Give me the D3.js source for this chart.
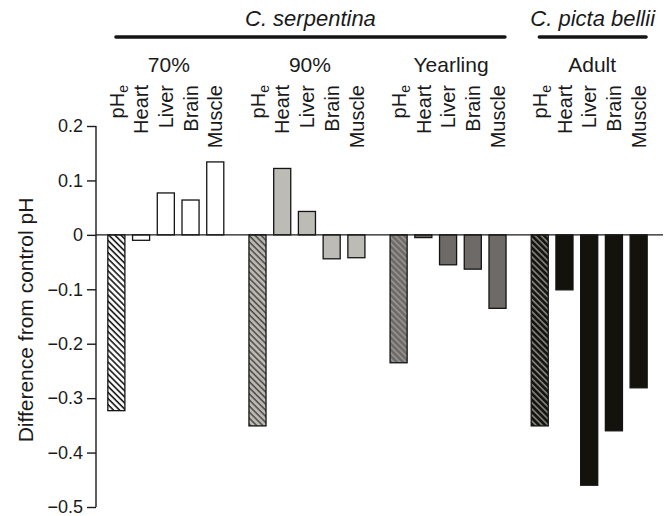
<!DOCTYPE html>
<html>
<head>
<meta charset="utf-8">
<script src="https://cdn.jsdelivr.net/npm/d3@7"></script>
<style>
    body{ margin:0; background:#fff; }
    svg text{ font-family:'Liberation Sans', Arial, sans-serif; fill:#1a1a1a; }
</style>
</head>
<body>
<svg id="chart" width="665" height="516"></svg>
<script>
'use strict';

// groups (developmental stage) and tissues
var groups = ['70%', '90%', 'Yearling', 'Adult'];
var tissues = ['pHe', 'Heart', 'Liver', 'Brain', 'Muscle'];

var values70 = [-0.323, -0.010, 0.077, 0.064, 0.134];
var values90 = [-0.351, 0.122, 0.043, -0.044, -0.042];
var valuesYearling = [-0.235, -0.005, -0.055, -0.063, -0.135];
var valuesAdult = [-0.351, -0.101, -0.460, -0.360, -0.281];

var speciesNames = ['C. serpentina', 'C. picta bellii'];
var speciesGroups = [['70%', '90%', 'Yearling'], ['Adult']];

var yTicks = [0.2, 0.1, 0, -0.1, -0.2, -0.3, -0.4, -0.5];
var yLabel = 'Difference from control pH';

var fills = { '70%': '#ffffff', '90%': '#bdbbb6', 'Yearling': '#6e6a67', 'Adult': '#13120d' },
    hatchLines = { '70%': '#141414', '90%': '#4d4a47', 'Yearling': '#9a9693', 'Adult': '#8a8883' };

var allValues = [values70, values90, valuesYearling, valuesAdult],
    rows = [];

groups.forEach(function( g, gi ){
    tissues.forEach(function( t, ti ){
        rows.push({ group: g, tissue: t, value: allValues[gi][ti], idx: gi });
    });
});

var svg = d3.select( '#chart' ),
    defs = svg.append( 'defs' );

var x0 = d3.scaleBand()
        .domain( groups )
        .range( [104, 651] )
        .paddingInner( 0.124 )
        .paddingOuter( 0 ),
    x1 = d3.scaleBand()
        .domain( tissues )
        .range( [0, x0.bandwidth()] )
        .paddingInner( 0.31 )
        .paddingOuter( 0.155 ),
    y = d3.scaleLinear()
        .domain( [-0.5, 0.2] )
        .range( [507, 126] );

// hatch patterns for the pHe bars
groups.forEach(function( g, gi ){
    var p = defs.append( 'pattern' )
        .attr( 'id', 'hatch' + gi )
        .attr( 'patternUnits', 'userSpaceOnUse' )
        .attr( 'width', 4.3 )
        .attr( 'height', 4.3 )
        .attr( 'patternTransform', 'rotate(-45)' );

    p.append( 'rect' )
        .attr( 'width', 4.3 )
        .attr( 'height', 4.3 )
        .attr( 'fill', fills[g] );
    p.append( 'line' )
        .attr( 'x1', 1 ).attr( 'x2', 1 )
        .attr( 'y1', 0 ).attr( 'y2', 4.3 )
        .attr( 'stroke', hatchLines[g] )
        .attr( 'stroke-width', 1.6 );
});

// y axis
var yAxis = d3.axisLeft( y )
    .tickValues( yTicks )
    .tickSize( 9 )
    .tickPadding( 4 )
    .tickFormat(function( d ){
        return d === 0 ? '0' : d3.format( '.1f' )( d ).replace( '-', '\u2013' );
    });

var $axis = svg.append( 'g' )
    .attr( 'transform', 'translate(96,0)' )
    .call( yAxis );

$axis.select( '.domain' )
    .attr( 'd', 'M0,' + y(0.2) + 'V' + y(-0.5) )
    .attr( 'stroke', '#1a1a1a' )
    .attr( 'stroke-width', 1.4 );
$axis.selectAll( '.tick line' )
    .attr( 'stroke', '#1a1a1a' )
    .attr( 'stroke-width', 1.4 );
$axis.selectAll( '.tick text' )
    .attr( 'font-size', 18 )
    .attr( 'fill', '#1a1a1a' );

svg.append( 'text' )
    .attr( 'transform', 'translate(33,320) rotate(-90)' )
    .attr( 'text-anchor', 'middle' )
    .attr( 'font-size', 21 )
    .text( yLabel );

// bars
svg.append( 'g' )
    .selectAll( 'rect' )
    .data( rows )
    .enter()
    .append( 'rect' )
    .attr( 'x', function( d ){ return x0( d.group ) + x1( d.tissue ); } )
    .attr( 'y', function( d ){ return y( Math.max( 0, d.value ) ); } )
    .attr( 'width', x1.bandwidth() )
    .attr( 'height', function( d ){ return Math.abs( y( d.value ) - y( 0 ) ); } )
    .attr( 'fill', function( d ){
        return d.tissue === 'pHe' ? 'url(#hatch' + d.idx + ')' : fills[d.group];
    })
    .attr( 'stroke', '#141414' )
    .attr( 'stroke-width', 1.3 );

// zero line
svg.append( 'line' )
    .attr( 'x1', 96 )
    .attr( 'x2', 663 )
    .attr( 'y1', y( 0 ) )
    .attr( 'y2', y( 0 ) )
    .attr( 'stroke', '#1a1a1a' )
    .attr( 'stroke-width', 1.4 );

// tissue labels, rotated, end aligned at the top
var $labels = svg.append( 'g' )
    .selectAll( 'text' )
    .data( rows )
    .enter()
    .append( 'text' )
    .attr( 'transform', function( d ){
        var cx = x0( d.group ) + x1( d.tissue ) + x1.bandwidth() / 2;
        return 'translate(' + cx + ',85) rotate(-90)';
    })
    .attr( 'text-anchor', 'end' )
    .attr( 'dy', '0.36em' )
    .attr( 'font-size', 20 );

$labels.each(function( d ){
    var $t = d3.select( this );
    if ( d.tissue === 'pHe' ){
        $t.append( 'tspan' ).text( 'pH' );
        $t.append( 'tspan' )
            .attr( 'font-size', 14 )
            .attr( 'dy', '0.3em' )
            .text( 'e' );
    }else{
        $t.text( d.tissue );
    }
});

// group labels
svg.append( 'g' )
    .selectAll( 'text' )
    .data( groups )
    .enter()
    .append( 'text' )
    .attr( 'x', function( g ){ return x0( g ) + x0.bandwidth() / 2 + 3; } )
    .attr( 'y', 72 )
    .attr( 'text-anchor', 'middle' )
    .attr( 'font-size', 21 )
    .text(function( g ){ return g; });

// species bars and names
speciesNames.forEach(function( name, si ){
    var gs = speciesGroups[si],
        left = x0( gs[0] ) + 12,
        right = x0( gs[gs.length - 1] ) + x0.bandwidth() - 5;

    svg.append( 'line' )
        .attr( 'x1', left )
        .attr( 'x2', right )
        .attr( 'y1', 37 )
        .attr( 'y2', 37 )
        .attr( 'stroke', '#141414' )
        .attr( 'stroke-width', 3.6 )
        .attr( 'stroke-linecap', 'round' );

    svg.append( 'text' )
        .attr( 'x', ( left + right ) / 2 )
        .attr( 'y', 26 )
        .attr( 'text-anchor', 'middle' )
        .attr( 'font-size', 22 )
        .attr( 'font-style', 'italic' )
        .text( name );
});
</script>
</body>
</html>
